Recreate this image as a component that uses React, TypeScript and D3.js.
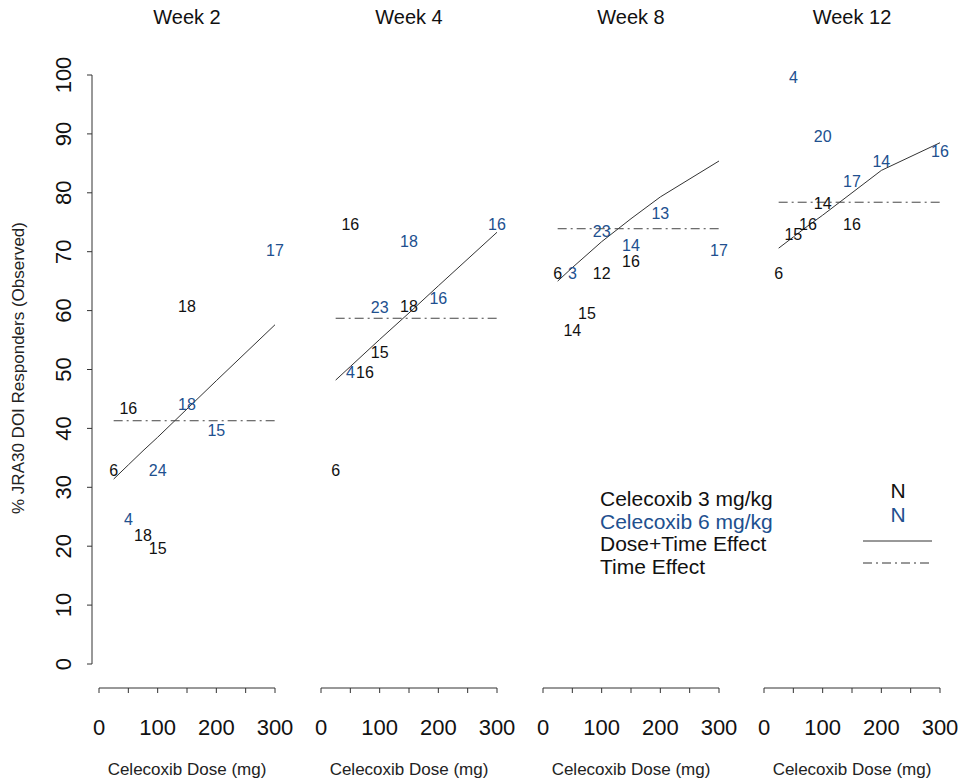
import React from 'react';
import * as d3 from 'd3';

// panels
const weeks = ['Week 2', 'Week 4', 'Week 8', 'Week 12'];

// Celecoxib 3 mg/kg (black) and 6 mg/kg (blue) doses in mg
const lowDoses = [25, 50, 75, 100, 150];
const highDoses = [50, 100, 150, 200, 300];

// observed % responders, one row per week
const lowPct = [
  [33.3, 43.8, 22.2, 20.0, 61.1],
  [33.3, 75.0, 50.0, 53.3, 61.1],
  [66.7, 57.1, 60.0, 66.7, 68.8],
  [66.7, 73.3, 75.0, 78.6, 75.0],
];
const lowN = [
  [6, 16, 18, 15, 18],
  [6, 16, 16, 15, 18],
  [6, 14, 15, 12, 16],
  [6, 15, 16, 14, 16],
];
const highPct = [
  [25.0, 33.3, 44.4, 40.0, 70.6],
  [50.0, 60.9, 72.2, 62.5, 75.0],
  [66.7, 73.9, 71.4, 76.9, 70.6],
  [100.0, 90.0, 82.4, 85.7, 87.5],
];
const highN = [
  [4, 24, 18, 15, 17],
  [4, 23, 18, 16, 16],
  [3, 23, 14, 13, 17],
  [4, 20, 17, 14, 16],
];

// model fits
const fitDoses = [25, 50, 75, 100, 150, 200, 300];
const doseTimeFit = [
  [31.4, 33.8, 36.2, 38.5, 43.3, 48.1, 57.6],
  [48.2, 50.5, 52.8, 55.1, 59.6, 64.2, 73.3],
  [65.0, 67.3, 69.5, 71.7, 75.6, 79.3, 85.4],
  [70.6, 72.5, 74.4, 76.2, 80.0, 83.8, 88.5],
];
const timeFit = [41.3, 58.7, 73.9, 78.4];

const yTicks = [0, 10, 20, 30, 40, 50, 60, 70, 80, 90, 100];
const xTicks = [0, 50, 100, 150, 200, 250, 300];
const xLabels = [0, 100, 200, 300];

const legendItems = ['Celecoxib 3 mg/kg', 'Celecoxib 6 mg/kg', 'Dose+Time Effect', 'Time Effect'];

const BLUE = '#21508f';
const FONT = '"Liberation Sans", Arial, sans-serif';
const DASHDOT = '9 4 2 4';

export default function App() {
  const width = 963;
  const height = 784;
  const panelLeft = [99, 321, 543, 764];
  const panelW = 176;
  const axisY = 688;

  const y = d3.scaleLinear().domain([0, 100]).range([664, 75]);

  return (
    <svg width={width} height={height} style={{ position: 'absolute', left: 0, top: 0 }} fontFamily={FONT}>
      <rect width={width} height={height} fill="white" />

      {/* y axis */}
      <line x1={92} x2={92} y1={y(0)} y2={y(100)} stroke="#333" />
      {yTicks.map(t => (
        <g key={t}>
          <line x1={87} x2={92} y1={y(t)} y2={y(t)} stroke="#333" />
          <text transform={`translate(71,${y(t)}) rotate(-90)`} textAnchor="middle" fontSize={22} fill="#111">{t}</text>
        </g>
      ))}
      <text transform={`translate(24,368) rotate(-90)`} textAnchor="middle" fontSize={17} fill="#222">
        % JRA30 DOI Responders (Observed)
      </text>

      {weeks.map((w, i) => {
        const x = d3.scaleLinear().domain([0, 300]).range([panelLeft[i], panelLeft[i] + panelW]);
        const line = d3.line<number>().x((d, j) => x(fitDoses[j])).y(d => y(d));
        return (
          <g key={w}>
            <text x={x(150)} y={24} textAnchor="middle" fontSize={20} fill="#111">{w}</text>

            {/* x axis */}
            <line x1={x(0)} x2={x(300)} y1={axisY} y2={axisY} stroke="#333" />
            {xTicks.map(t => (
              <line key={t} x1={x(t)} x2={x(t)} y1={axisY} y2={axisY + 5} stroke="#333" />
            ))}
            {xLabels.map(t => (
              <text key={t} x={x(t)} y={735} textAnchor="middle" fontSize={22} fill="#111">{t}</text>
            ))}
            <text x={x(150)} y={775} textAnchor="middle" fontSize={17} fill="#222">Celecoxib Dose (mg)</text>

            {/* fits */}
            <path d={line(doseTimeFit[i]) || ''} fill="none" stroke="#333" strokeWidth={1} />
            <line x1={x(25)} x2={x(300)} y1={y(timeFit[i])} y2={y(timeFit[i])}
              stroke="#444" strokeWidth={1} strokeDasharray={DASHDOT} />

            {/* observed, labelled by N */}
            {lowDoses.map((d, j) => (
              <text key={'l' + j} x={x(d)} y={y(lowPct[i][j])} dy="0.5em" textAnchor="middle"
                fontSize={16} fill="#111">{lowN[i][j]}</text>
            ))}
            {highDoses.map((d, j) => (
              <text key={'h' + j} x={x(d)} y={y(highPct[i][j])} dy="0.5em" textAnchor="middle"
                fontSize={16} fill={BLUE}>{highN[i][j]}</text>
            ))}
          </g>
        );
      })}

      {/* legend */}
      {legendItems.map((t, i) => (
        <text key={t} x={600} y={506 + i * 22.5} fontSize={21} fill={i === 1 ? BLUE : '#111'}>{t}</text>
      ))}
      <text x={898} y={498} textAnchor="middle" fontSize={21} fill="#111">N</text>
      <text x={898} y={522} textAnchor="middle" fontSize={21} fill={BLUE}>N</text>
      <line x1={863} x2={932} y1={541} y2={541} stroke="#333" />
      <line x1={863} x2={932} y1={563} y2={563} stroke="#333" strokeDasharray={DASHDOT} />
    </svg>
  );
}
